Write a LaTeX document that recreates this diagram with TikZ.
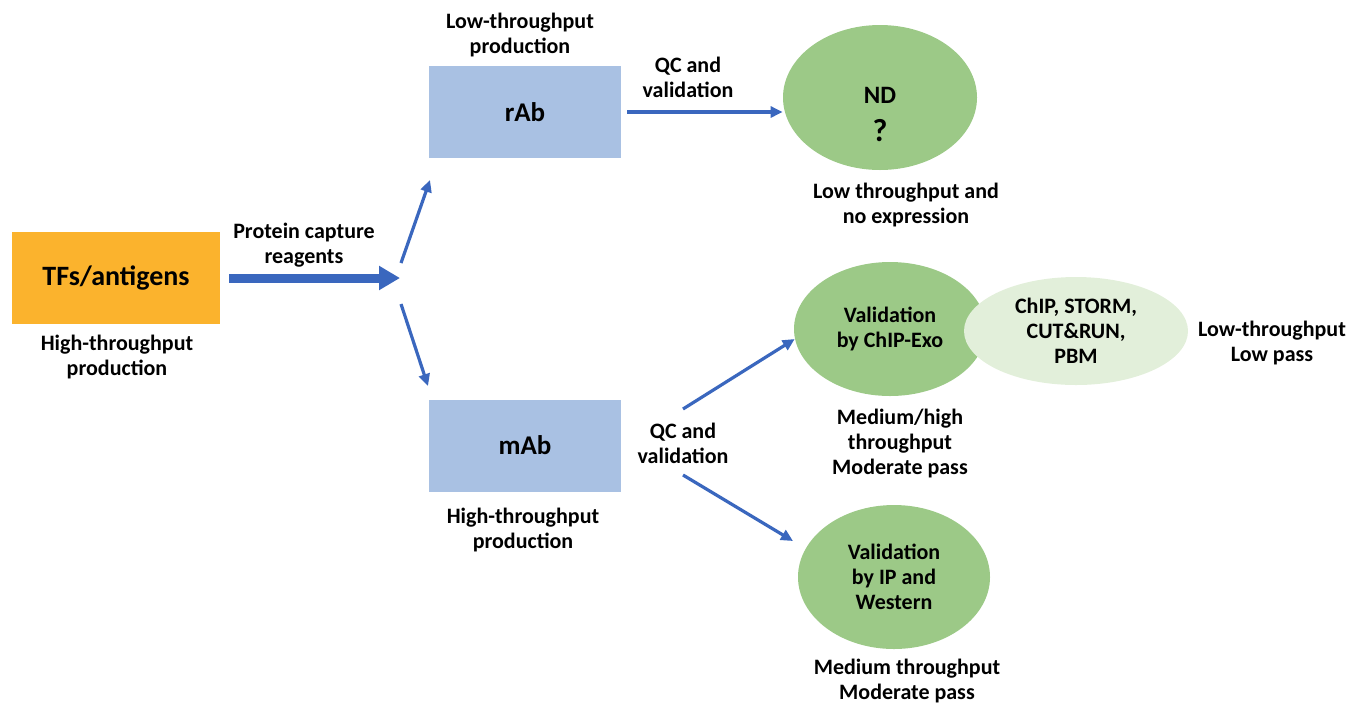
\documentclass[tikz,border=0pt]{standalone}
\usepackage{fontspec}
\setmainfont{Carlito}
\usetikzlibrary{shapes.geometric,arrows.meta}
\definecolor{tforange}{HTML}{FBB32D}
\definecolor{boxblue}{HTML}{A9C1E3}
\definecolor{ellgreen}{HTML}{9CC987}
\definecolor{lightgreen}{HTML}{E2EFDA}
\definecolor{arrowblue}{HTML}{3A67BE}
\begin{document}
\begin{tikzpicture}[x=0.5pt,y=-0.5pt,
  lbl/.style={font=\fontsize{11}{12.5}\selectfont\bfseries, align=center, inner sep=0pt},
  box/.style={rectangle, inner sep=0pt, minimum width=96pt, minimum height=46pt,
    font=\fontsize{13.5}{15}\selectfont\bfseries},
  oval/.style={ellipse, inner sep=0pt, align=center,
    font=\fontsize{11}{12.5}\selectfont\bfseries},
  arr/.style={-{Triangle[length=6pt,width=5.5pt]}, line width=1.6pt, draw=arrowblue},
  bigarr/.style={-{Triangle[length=10.5pt,width=11.5pt]}, line width=4.5pt, draw=arrowblue}]
\useasboundingbox (0,0) rectangle (1353,703);

% boxes
\node[box, fill=tforange, minimum width=104pt, font=\fontsize{14}{16}\selectfont\bfseries] (tfs) at (116,278) {TFs/antigens};
\node[box, fill=boxblue] (rab) at (525,112) {rAb};
\node[box, fill=boxblue] (mab) at (525,445.5) {mAb};

% ellipses
\node[oval, fill=ellgreen, minimum width=97pt, minimum height=72.5pt] (nd) at (880,97.5) {};
\node[align=center, inner sep=0pt, font=\fontsize{12.5}{13}\selectfont\bfseries] (ndText) at (880,114)
  {ND\\[6pt]{\fontsize{16}{16}\selectfont ?}};
\node[oval, fill=ellgreen, minimum width=96pt, minimum height=67pt] (chipexo) at (890,329)
  {Validation\\by ChIP-Exo};
\node[oval, fill=lightgreen, minimum width=112pt, minimum height=54pt] (storm) at (1076,331)
  {ChIP, STORM,\\CUT\&RUN,\\PBM};
\node[oval, fill=ellgreen, minimum width=96pt, minimum height=72pt] (ip) at (894,577)
  {Validation\\by IP and\\Western};

% labels
\node[lbl] (tfsLbl) at (117,357) {High-throughput\\production};
\node[lbl] (protLbl) at (304,245.5) {Protein capture\\reagents};
\node[lbl] (rabLbl) at (520,35.5) {Low-throughput\\production};
\node[lbl] (qcTopLbl) at (688,77.5) {QC and\\validation};
\node[lbl] (ndLbl) at (906,205.5) {Low throughput and\\no expression};
\node[lbl] (chipLbl) at (900,443) {Medium/high\\throughput\\Moderate pass};
\node[lbl] (stormLbl) at (1272,343) {Low-throughput\\Low pass};
\node[lbl] (qcLowLbl) at (683,443.5) {QC and\\validation};
\node[lbl] (mabLbl) at (523,529.5) {High-throughput\\production};
\node[lbl] (ipLbl) at (907,681) {Medium throughput\\Moderate pass};

% connector points
\coordinate (hub) at (400,278);
\coordinate (upStart) at (401,263);
\coordinate (upEnd) at (430,180);
\coordinate (dnStart) at (401,304);
\coordinate (dnEnd) at (428,386);
\coordinate (qcUp) at (683,409);
\coordinate (qcDn) at (683,475);
\coordinate (ipTip) at (793,541);

% connectors
\draw[bigarr, shorten <=4.5pt] (tfs) -- (hub);
\draw[arr] (upStart) -- (upEnd);
\draw[arr] (dnStart) -- (dnEnd);
\draw[arr, shorten <=3pt] (rab.east) -- (rab.east -| nd.west);
\draw[arr] (qcUp) -- (chipexo.186);
\draw[arr] (qcDn) -- (ipTip);
\end{tikzpicture}
\end{document}
